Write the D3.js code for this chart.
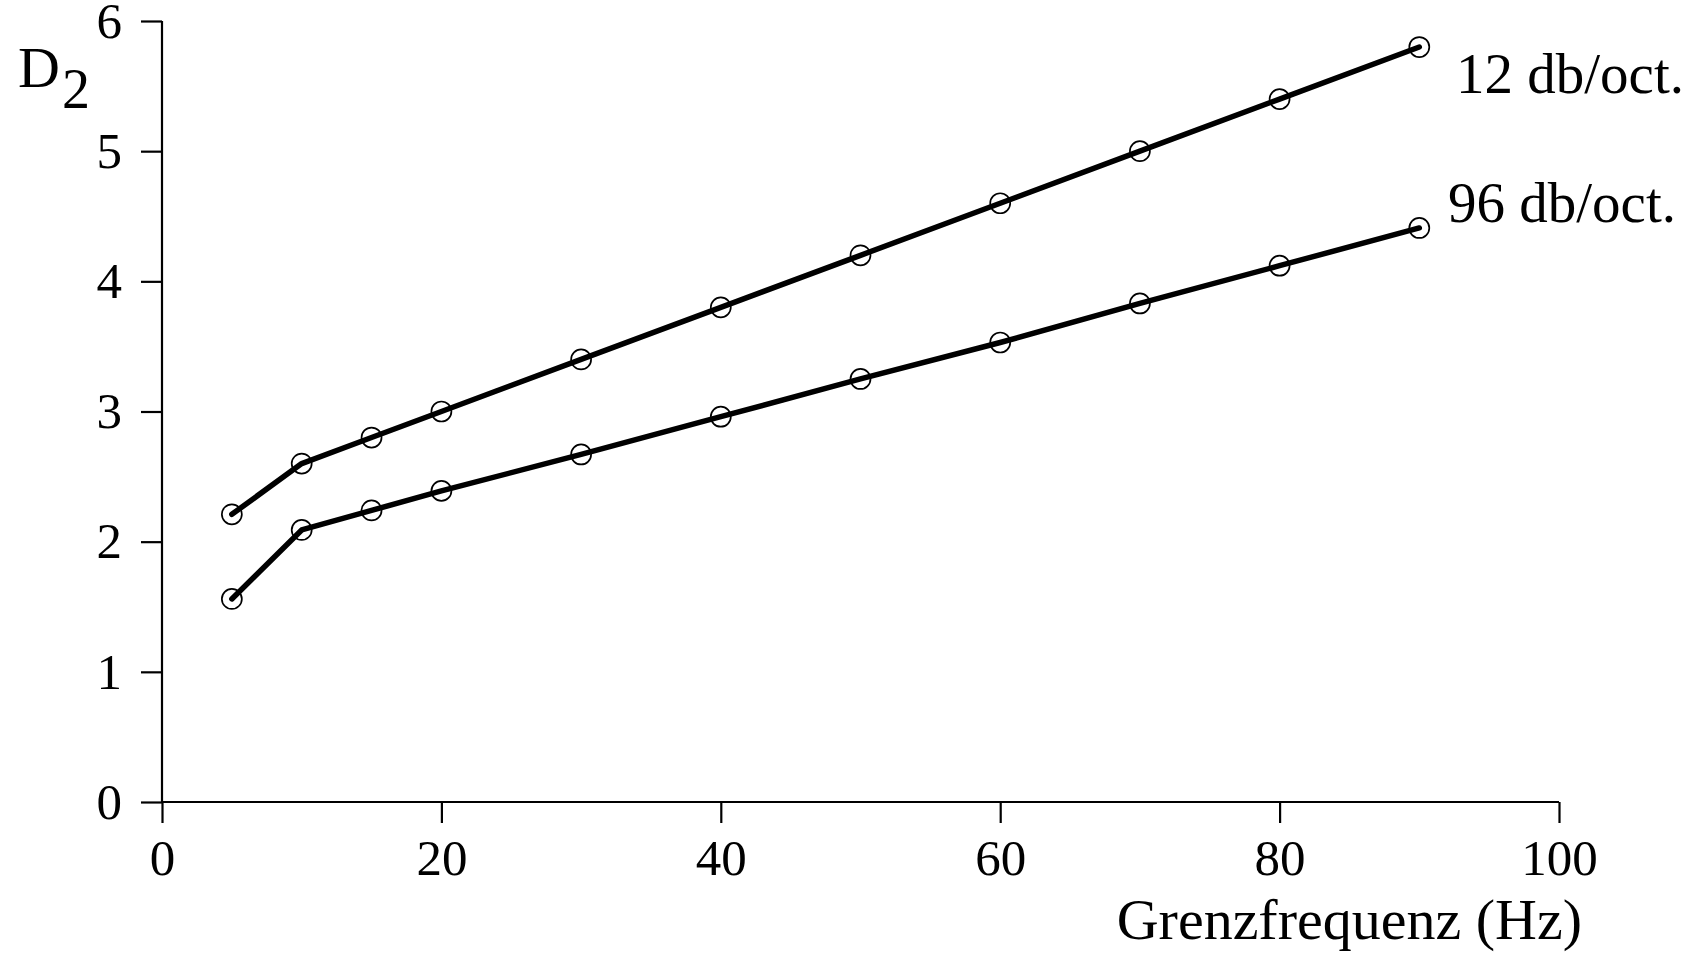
<!DOCTYPE html>
<html>
<head>
<meta charset="utf-8">
<script src="https://cdn.jsdelivr.net/npm/d3@7"></script>
<style>
  html, body { margin: 0; padding: 0; background: #fff; }
  svg { display: block; }
  text { font-family: "Liberation Serif", "Times New Roman", serif; fill: #000; }
</style>
</head>
<body>
<svg id="chart" width="1692" height="955"></svg>
<script>
// Cut-off frequency (Hz) of the high-pass filter
const frequencies = [5, 10, 15, 20, 30, 40, 50, 60, 70, 80, 90];
// Correlation dimension D2 for two filter slopes
const d2Slope12 = [2.21, 2.60, 2.80, 3.00, 3.40, 3.80, 4.20, 4.60, 5.00, 5.40, 5.80];
const d2Slope96 = [1.56, 2.09, 2.24, 2.39, 2.67, 2.96, 3.25, 3.53, 3.83, 4.12, 4.41];
const seriesNames = ["12 db/oct.", "96 db/oct."];
const xTicks = [0, 20, 40, 60, 80, 100];
const yTicks = [0, 1, 2, 3, 4, 5, 6];

const svg = d3.select("#chart");
const x0 = 162, x1 = 1559, y0 = 802, y1 = 21;

const x = d3.scaleLinear().domain([0, 100]).range([x0, x1]);
const y = d3.scaleLinear().domain([0, 6]).range([y0, y1]);

// y axis
const yAxis = svg.append("g")
  .attr("transform", `translate(${x0},0)`)
  .call(d3.axisLeft(y).tickValues(yTicks).tickSize(21).tickPadding(19).tickFormat(d3.format("d")));
// x axis
const xAxis = svg.append("g")
  .attr("transform", `translate(0,${y0})`)
  .call(d3.axisBottom(x).tickValues(xTicks).tickSize(21).tickPadding(16).tickFormat(d3.format("d")));

[yAxis, xAxis].forEach(g => {
  g.select(".domain").attr("stroke", "#000").attr("stroke-width", 2.2);
  g.selectAll(".tick line").attr("stroke", "#000").attr("stroke-width", 2.2);
  g.selectAll(".tick text")
    .attr("font-family", "'Liberation Serif', serif")
    .attr("font-size", 51)
    .attr("fill", "#000");
});
// the axis lines meet at the origin without the outer tick stubs
yAxis.select(".domain").attr("d", `M0,${y0}V${y1}`);
xAxis.select(".domain").attr("d", `M${x0},0H${x1}`);

// series
const series = [d2Slope12, d2Slope96];
const line = d3.line().x((d, i) => x(frequencies[i])).y(d => y(d));

series.forEach(vals => {
  svg.append("path")
    .datum(vals)
    .attr("d", line)
    .attr("fill", "none")
    .attr("stroke", "#000")
    .attr("stroke-width", 5.5)
    .attr("stroke-linejoin", "round")
    .attr("stroke-linecap", "round");
  svg.append("g").selectAll("circle")
    .data(vals)
    .join("circle")
    .attr("cx", (d, i) => x(frequencies[i]))
    .attr("cy", d => y(d))
    .attr("r", 10)
    .attr("fill", "none")
    .attr("stroke", "#000")
    .attr("stroke-width", 1.7);
});

// series labels at the right end of each line
svg.append("text")
  .attr("x", 1456).attr("y", 93)
  .attr("font-size", 57)
  .text(seriesNames[0]);
svg.append("text")
  .attr("x", 1448).attr("y", 222)
  .attr("font-size", 57)
  .text(seriesNames[1]);

// axis titles
svg.append("text")
  .attr("x", 1582).attr("y", 939)
  .attr("text-anchor", "end")
  .attr("font-size", 58)
  .text("Grenzfrequenz (Hz)");

const yTitle = svg.append("text")
  .attr("x", 18).attr("y", 87)
  .attr("font-size", 58);
yTitle.append("tspan").text("D");
yTitle.append("tspan").attr("dy", 21).attr("dx", 2).attr("font-size", 56).text("2");
</script>
</body>
</html>
